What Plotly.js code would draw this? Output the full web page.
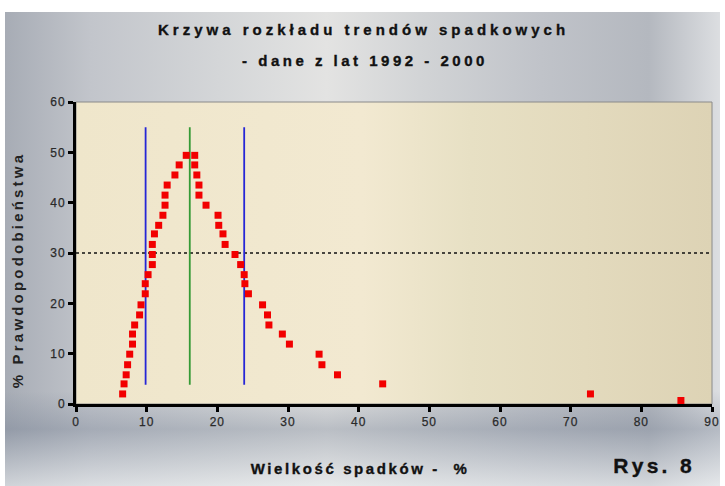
<!DOCTYPE html>
<html>
<head>
<meta charset="utf-8">
<script src="https://cdn.plot.ly/plotly-3.0.1.min.js"></script>
<style>
  html, body { margin: 0; padding: 0; background: #ffffff; }
  #wrap { position: relative; width: 725px; height: 486px; background: #ffffff; overflow: hidden; }
  #bg { position: absolute; left: 5px; top: 12px; width: 715px; height: 474px;
        background:
          linear-gradient(to bottom, rgba(255,255,255,0) 0%, rgba(255,255,255,0) 80%, rgba(110,122,142,0.35) 88%, rgba(235,238,240,0.6) 100%),
          linear-gradient(to right, #a7acb5 0%, #c2c5cb 12%, #d4d6d8 30%, #e3e3e2 45%, #d2d4d6 58%, #c0c3c9 75%, #b4b8bf 90%, #dcdee1 100%); }
  #plotbg { position: absolute; left: 76px; top: 102px; width: 636px; height: 302px;
        background: linear-gradient(to right, #efe6cb 0%, #f2e9d1 45%, #e7e0c4 62%, #e3dabd 80%, #ddd3b5 100%); }
  #chart { position: absolute; left: 0; top: 0; width: 725px; height: 486px; }
  .xtick text, .ytick text { letter-spacing: 1px; stroke: #2a2a2a; stroke-width: 0.25px; }
  .annotation[data-index="0"] text, .annotation[data-index="1"] text,
  .annotation[data-index="2"] text, .annotation[data-index="4"] text { stroke: #111; stroke-width: 0.35px; }
</style>
</head>
<body>
<div id="wrap"><div id="bg"></div><div id="plotbg"></div><div id="chart"></div></div>
<script>
// Data
var pointsX = [6.6, 6.8, 7.1, 7.3, 7.6, 8.0, 8.0, 8.3, 9.0, 9.2, 9.8, 9.8, 10.2, 10.8, 10.8, 10.8, 11.1, 11.7, 12.3, 12.6, 12.6, 12.9, 14.0, 14.6, 15.6,
               16.8, 16.8, 17.1, 17.4, 17.4, 18.4, 20.1, 20.2, 20.8, 21.1, 22.5, 23.3, 23.8, 23.9, 24.4, 26.4, 27.1, 27.3, 29.2, 30.2,
               34.4, 34.8, 37.0, 43.4, 72.8, 85.6];
var pointsY = [2.0, 4.0, 5.8, 7.8, 9.9, 11.9, 13.9, 15.7, 17.7, 19.7, 21.9, 23.9, 25.7, 27.7, 29.7, 31.7, 33.8, 35.5, 37.5, 39.5, 41.5, 43.5, 45.5, 47.5, 49.4,
               49.4, 47.5, 45.5, 43.5, 41.5, 39.5, 37.5, 35.5, 33.8, 31.7, 29.7, 27.7, 25.7, 23.9, 21.9, 19.7, 17.7, 15.7, 13.9, 11.9,
               9.9, 7.8, 5.8, 4.0, 2.0, 0.7];
var blueLinesX = [9.85, 23.8];
var greenLineX = 16.1;
var verticalLineY = [3.8, 55];
var thresholdY = 30;
var xRange = [0, 90];
var yRange = [0, 60];
var xTicks = [0, 10, 20, 30, 40, 50, 60, 70, 80, 90];
var yTicks = [0, 10, 20, 30, 40, 50, 60];
var titleLine1 = 'Krzywa rozkładu trendów spadkowych';
var titleLine2 = '- dane z lat 1992 - 2000';
var xTitle = 'Wielkość spadków -  %';
var yTitle = '% Prawdopodobieństwa';
var figLabel = 'Rys. 8';

var traces = [
  { x: xRange, y: [thresholdY, thresholdY], mode: 'lines', line: { color: '#111', width: 1.5, dash: '3px,3px' }, hoverinfo: 'skip' },
  { x: [blueLinesX[0], blueLinesX[0]], y: verticalLineY, mode: 'lines', line: { color: '#2626d6', width: 1.8 } },
  { x: [blueLinesX[1], blueLinesX[1]], y: verticalLineY, mode: 'lines', line: { color: '#2626d6', width: 1.8 } },
  { x: [greenLineX, greenLineX], y: verticalLineY, mode: 'lines', line: { color: '#359a35', width: 1.8 } },
  { x: pointsX, y: pointsY, mode: 'markers', marker: { symbol: 'square', size: 7, color: '#f20000', line: { width: 0 } } }
];

var FONT = 'Liberation Sans, Arial, sans-serif';
var axisFont = { family: FONT, size: 12, color: '#2a2a2a' };
var layout = {
  width: 725, height: 486, autosize: false,
  margin: { l: 76, r: 13, t: 102, b: 82, pad: 0 },
  paper_bgcolor: 'rgba(0,0,0,0)',
  plot_bgcolor: 'rgba(0,0,0,0)',
  showlegend: false,
  xaxis: {
    range: xRange, tickvals: xTicks, ticktext: xTicks.map(String),
    ticks: 'outside', ticklen: 5, tickwidth: 3, tickcolor: '#000',
    showline: true, linewidth: 3, linecolor: '#000',
    showgrid: false, zeroline: false, tickfont: axisFont
  },
  yaxis: {
    range: yRange, tickvals: yTicks, ticktext: yTicks.map(String),
    ticks: 'outside', ticklen: 5, tickwidth: 3, tickcolor: '#000',
    showline: true, linewidth: 3, linecolor: '#000',
    showgrid: false, zeroline: false, tickfont: axisFont
  },
  shapes: [
    { type: 'rect', xref: 'x domain', yref: 'y domain', x0: 0, x1: 1, y0: 0, y1: 1, line: { color: '#8a8a8a', width: 1 }, layer: 'below' }
  ],
  annotations: [
    { text: titleLine1, xref: 'paper', yref: 'paper', x: 0.5, y: 1, yshift: 73, xanchor: 'center', yanchor: 'middle', showarrow: false,
      font: { family: FONT, size: 15, color: '#111', weight: 'bold' } },
    { text: titleLine2, xref: 'paper', yref: 'paper', x: 0.5, y: 1, yshift: 42, xanchor: 'center', yanchor: 'middle', showarrow: false,
      font: { family: FONT, size: 15, color: '#111', weight: 'bold' } },
    { text: xTitle, xref: 'paper', yref: 'paper', x: 0.45, y: 0, yshift: -63, xanchor: 'center', yanchor: 'middle', showarrow: false,
      font: { family: FONT, size: 15, color: '#111', weight: 'bold' } },
    { text: yTitle, xref: 'paper', yref: 'paper', x: 0, y: 0.45, xshift: -58, xanchor: 'center', yanchor: 'middle', showarrow: false, textangle: -90,
      font: { family: FONT, size: 15, color: '#222', weight: 'bold' } },
    { text: figLabel, xref: 'paper', yref: 'paper', x: 1, y: 0, xshift: -57, yshift: -61, xanchor: 'center', yanchor: 'middle', showarrow: false,
      font: { family: FONT, size: 21, color: '#111', weight: 'bold' } }
  ]
};

// letter spacing and target centre (page pixels) for the text items, matching the reference's wide lettering
var textFit = [
  { idx: 0, spacing: 4.0, cx: 363.5, cy: 29 },
  { idx: 1, spacing: 3.5, cx: 365, cy: 60 },
  { idx: 2, spacing: 2.6, cx: 360, cy: 468 },
  { idx: 3, spacing: 3.2, cx: 18, cy: 270 },
  { idx: 4, spacing: 3.3, cx: 654, cy: 465 }
];

Plotly.newPlot('chart', traces, layout, { displayModeBar: false, staticPlot: true }).then(function () {
  var host = document.getElementById('chart').getBoundingClientRect();
  textFit.forEach(function (f) {
    var g = document.querySelector('.annotation[data-index="' + f.idx + '"]');
    if (!g) return;
    var t = g.querySelector('text');
    if (t) t.style.letterSpacing = f.spacing + 'px';
    var r = (t || g).getBoundingClientRect();
    var dx = f.cx - (r.left - host.left + r.width / 2);
    var dy = f.cy - (r.top - host.top + r.height / 2);
    var prev = g.getAttribute('transform') || '';
    g.setAttribute('transform', 'translate(' + dx.toFixed(1) + ',' + dy.toFixed(1) + ') ' + prev);
  });
});
</script>
</body>
</html>
